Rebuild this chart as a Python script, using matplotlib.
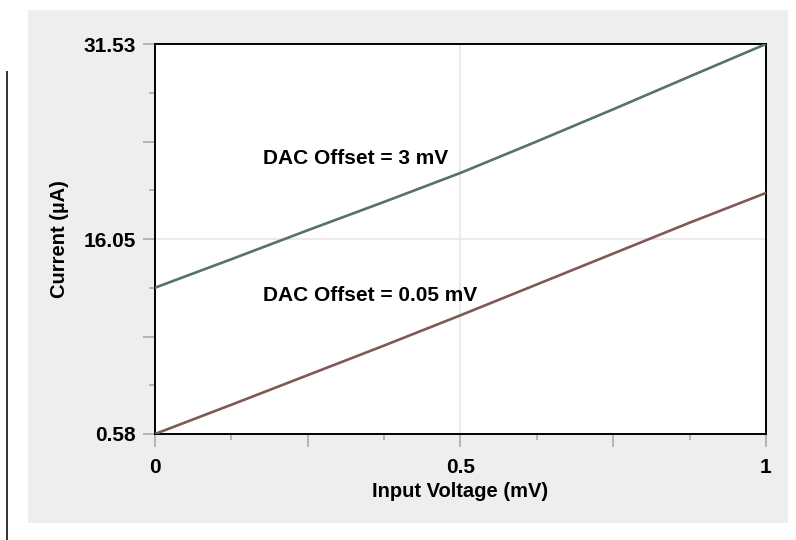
import matplotlib
matplotlib.use('Agg')
import matplotlib.pyplot as plt
from matplotlib.patches import Rectangle
from matplotlib.lines import Line2D
import numpy as np

# data
voltage = [0, 0.125, 0.25, 0.375, 0.5, 0.625, 0.75, 0.875, 1.0]
current_3mv = [12.19, 14.45, 16.75, 19.0, 21.3, 23.8, 26.35, 28.95, 31.53]
current_005mv = [0.58, 2.9, 5.25, 7.6, 10.0, 12.45, 14.9, 17.35, 19.71]

y_major = [0.58, 16.05, 31.53]
x_major = [0, 0.5, 1]
label_3mv = 'DAC Offset = 3 mV'
label_005mv = 'DAC Offset = 0.05 mV'

plt.rcParams['font.family'] = ['Liberation Sans', 'DejaVu Sans']
plt.rcParams['font.weight'] = 'bold'

fig = plt.figure(figsize=(7.96, 5.40), dpi=100)
fig.patch.set_facecolor('white')

# gray panel behind the chart
fig.patches.append(Rectangle((0.0352, 0.0315), 0.955, 0.95, transform=fig.transFigure,
                             facecolor='#eeeeee', edgecolor='none', zorder=-1))
# stray vertical rule at the left edge
fig.lines.append(Line2D([0.0088, 0.0088], [0.0, 0.8667], transform=fig.transFigure,
                        color='#333333', lw=1.4))

ax = fig.add_axes([0.1947, 0.1963, 0.7676, 0.7222])
ax.set_facecolor('white')

ax.axvline(0.5, color='#e6e6e6', lw=1.2, zorder=1)
ax.axhline(y_major[1], color='#e6e6e6', lw=1.2, zorder=1)

ax.plot(voltage, current_3mv, color='#56726c', lw=1.9, zorder=3)
ax.plot(voltage, current_005mv, color='#7d5a55', lw=1.9, zorder=3)

ax.text(0.177, 22.0, label_3mv, fontsize=15, fontweight='bold', va='baseline', ha='left')
ax.text(0.177, 11.13, label_005mv, fontsize=15, fontweight='bold', va='baseline', ha='left')

ax.set_xlim(0, 1)
ax.set_ylim(y_major[0], y_major[-1])

# ticks: quarters medium, eighths short, ends black
xq = np.linspace(0, 1, 5)
ax.set_xticks(xq)
ax.set_xticklabels(['0', '', '0.5', '', '1'])
ax.set_xticks(np.linspace(0, 1, 9), minor=True)
yq = np.linspace(y_major[0], y_major[-1], 5)
ax.set_yticks(yq)
ax.set_yticklabels(['0.58', '', '16.05', '', '31.53'])
ax.set_yticks(np.linspace(y_major[0], y_major[-1], 9), minor=True)

ax.tick_params(which='major', direction='out', length=9, width=1.2, color='#aaaaaa',
               labelsize=15, pad=8)
ax.tick_params(which='minor', direction='out', length=4.5, width=1.2, color='#aaaaaa')
ax.tick_params(axis='y', which='major', pad=5)
for t in [ax.xaxis.get_major_ticks()[0], ax.xaxis.get_major_ticks()[-1],
          ax.yaxis.get_major_ticks()[0], ax.yaxis.get_major_ticks()[-1]]:
    t.tick1line.set_color('black')

for lab in ax.get_xticklabels() + ax.get_yticklabels():
    lab.set_fontweight('bold')

for s in ax.spines.values():
    s.set_color('black')
    s.set_linewidth(1.4)

ax.set_xlabel('Input Voltage (mV)', fontsize=14.5, fontweight='bold', labelpad=4)
ax.set_ylabel('Current (µA)', fontsize=14.5, fontweight='bold', labelpad=10)

fig.savefig('out.png', dpi=100)
